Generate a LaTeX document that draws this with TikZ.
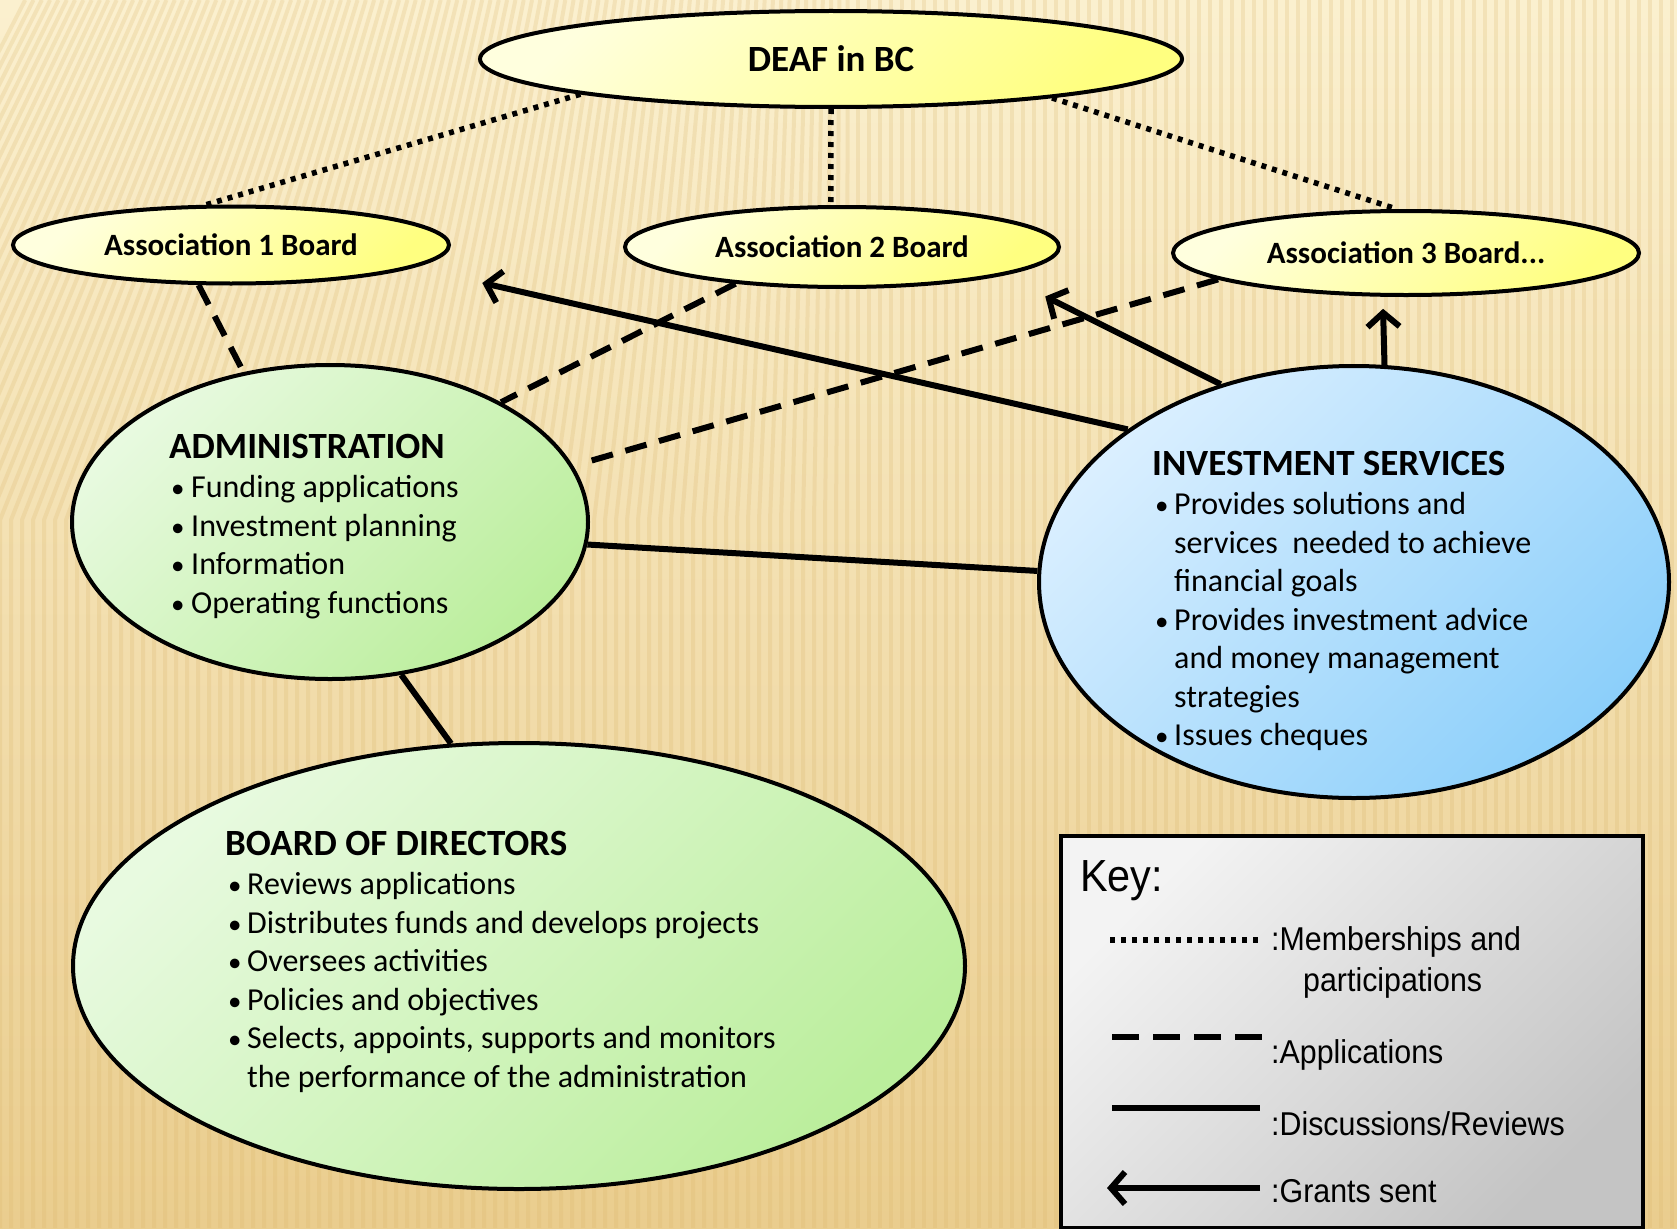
\documentclass[tikz,border=0pt]{standalone}
\usepackage{fontspec}
\setmainfont{Carlito}
\newfontfamily\keyfont[FakeStretch=0.92]{Liberation Sans}
\usetikzlibrary{shapes.geometric,arrows.meta}
\definecolor{bgTop}{HTML}{FBF0CF}
\definecolor{bgMid}{HTML}{F6E4B5}
\definecolor{bgBot}{HTML}{EACD8E}
\definecolor{stripeC}{HTML}{D9B468}
\definecolor{yelA}{HTML}{FFFFDE}
\definecolor{yelB}{HTML}{FFFF80}
\definecolor{grnA}{HTML}{E8FAE0}
\definecolor{grnB}{HTML}{BBEE9C}
\definecolor{bluA}{HTML}{DAEFFF}
\definecolor{bluB}{HTML}{8CCFFA}
\definecolor{keyA}{HTML}{F3F3F3}
\definecolor{keyB}{HTML}{C4C4C4}
\newcommand\bul[1]{\makebox[#1][l]{\hspace{1pt}\fontsize{27}{27}\selectfont•}}
\begin{document}
\begin{tikzpicture}[x=1pt,y=-1pt,
  ell/.style={ellipse, draw=black, line width=4pt, inner sep=0pt},
  yel/.style={ell, top color=yelA, bottom color=yelB, shading angle=45},
  grn/.style={ell, top color=grnA, bottom color=grnB, shading angle=45},
  blu/.style={ell, top color=bluA, bottom color=bluB, shading angle=45},
  keybox/.style={rectangle, draw=black, line width=4pt, top color=keyA, bottom color=keyB, shading angle=45, inner sep=0pt},
  memb/.style={line width=5.5pt, dash pattern=on 5pt off 6pt},
  appl/.style={line width=6pt, dash pattern=on 22pt off 13pt},
  disc/.style={line width=6pt},
  grant/.style={line width=6pt, -{Straight Barb[length=14pt,width=32pt]}},
  stripe/.style={draw=stripeC, line width=4pt, opacity=0.22},
  ttl/.style={font=\fontsize{37}{44}\selectfont\bfseries, anchor=base west, inner sep=0pt},
  lst/.style={font=\fontsize{32}{38.5}\selectfont, anchor=base west, inner sep=0pt},
  asf/.style={font=\fontsize{31}{37}\selectfont\bfseries},
  keyt/.style={font=\keyfont\fontsize{33}{40}\selectfont, anchor=base west, inner sep=0pt}
]
\useasboundingbox (0,0) rectangle (1677,1228);
% background
\shade[top color=bgTop, middle color=bgMid, bottom color=bgBot] (0,0) rectangle (1677,1228);
\foreach \i in {-22,...,152} {
  \pgfmathsetmacro\xx{\i*11}
  \pgfmathsetmacro\kk{max(0,0.4*(1-\xx/850))}
  \draw[stripe] (\xx,1228) -- (\xx,520) -- (\xx+\kk*520,0);
}

% nodes
\node[yel, minimum width=702pt, minimum height=96pt, font=\fontsize{37}{44}\selectfont\bfseries] (deaf) at (831,59) {DEAF in BC};
\node[yel, asf, minimum width=436pt, minimum height=77pt] (as1) at (231,245) {Association 1 Board};
\node[yel, asf, minimum width=434pt, minimum height=80pt] (as2) at (842,247) {Association 2 Board};
\node[yel, asf, minimum width=466pt, minimum height=84pt] (as3) at (1406,253) {Association 3 Board...};
\node[grn, minimum width=516pt, minimum height=314pt] (adm) at (330,522) {};
\node[blu, minimum width=630pt, minimum height=432pt] (inv) at (1354,582) {};
\node[grn, minimum width=892pt, minimum height=446pt] (brd) at (519,966) {};
\node[keybox, minimum width=582pt, minimum height=392pt, anchor=north west] (key) at (1059,834) {};

% connectors
\draw[memb] (deaf.188.8) -- (as1.122.4);
\draw[memb] (deaf.270) -- (as2.105);
\draw[memb] (deaf.350.3) -- (as3.102.8);
\draw[appl] (as1.231.7) -- (adm.120);
\draw[appl] (as2.199.2) -- (adm.35.6);
\draw[appl, shorten >=17pt] (as3.188.5) -- (adm.13);
\draw[grant, shorten >=70pt] (inv.146.1) -- (as1.353.8);
\draw[grant, shorten >=47pt] (inv.124.5) -- (as2.350.4);
\draw[grant, shorten >=12pt] (inv.82.1) -- (as3.242.4);
\draw[disc] (adm.355.8) -- (inv.178.7);
\draw[disc] (adm.295.2) -- (brd.107.4);

% administration text
\node[ttl] (admT) at (169,458) {ADMINISTRATION};
\node[lst] (adm1) at (170,497) {\bul{21pt}Funding applications};
\node[lst] (adm2) at (170,536) {\bul{21pt}Investment planning};
\node[lst] (adm3) at (170,574) {\bul{21pt}Information};
\node[lst] (adm4) at (170,613) {\bul{21pt}Operating functions};

% investment text
\node[ttl] (invT) at (1152,475) {INVESTMENT SERVICES};
\node[lst] (inv1) at (1154,514) {\bul{20pt}Provides solutions and};
\node[lst] (inv2) at (1174,553) {services\ \ needed to achieve};
\node[lst] (inv3) at (1174,591) {financial goals};
\node[lst] (inv4) at (1154,630) {\bul{20pt}Provides investment advice};
\node[lst] (inv5) at (1174,668) {and money management};
\node[lst] (inv6) at (1174,707) {strategies};
\node[lst] (inv7) at (1154,745) {\bul{20pt}Issues cheques};

% board text
\node[ttl] (brdT) at (225,855) {BOARD OF DIRECTORS};
\node[lst] (brd1) at (227,894) {\bul{20pt}Reviews applications};
\node[lst] (brd2) at (227,933) {\bul{20pt}Distributes funds and develops projects};
\node[lst] (brd3) at (227,971) {\bul{20pt}Oversees activities};
\node[lst] (brd4) at (227,1010) {\bul{20pt}Policies and objectives};
\node[lst] (brd5) at (227,1048) {\bul{20pt}Selects, appoints, supports and monitors};
\node[lst] (brd6) at (247,1087) {the performance of the administration};

% key
\node[keyt, font=\keyfont\fontsize{45}{54}\selectfont] (keyT) at (1080,891) {Key:};
\coordinate (k1a) at (1110,940); \coordinate (k1b) at (1262,940);
\coordinate (k2a) at (1112,1037); \coordinate (k2b) at (1262,1037);
\coordinate (k3a) at (1112,1108); \coordinate (k3b) at (1260,1108);
\coordinate (k4a) at (1107,1188); \coordinate (k4b) at (1260,1188);
\draw[memb] (k1a) -- (k1b);
\draw[line width=6pt, dash pattern=on 27pt off 14pt] (k2a) -- (k2b);
\draw[disc] (k3a) -- (k3b);
\draw[grant] (k4b) -- (k4a);
\node[keyt] (kt1) at (1271,950) {:Memberships and};
\node[keyt] (kt1b) at (1303,991) {participations};
\node[keyt] (kt2) at (1271,1063) {:Applications};
\node[keyt] (kt3) at (1271,1135) {:Discussions/Reviews};
\node[keyt] (kt4) at (1271,1202) {:Grants sent};
\end{tikzpicture}
\end{document}
